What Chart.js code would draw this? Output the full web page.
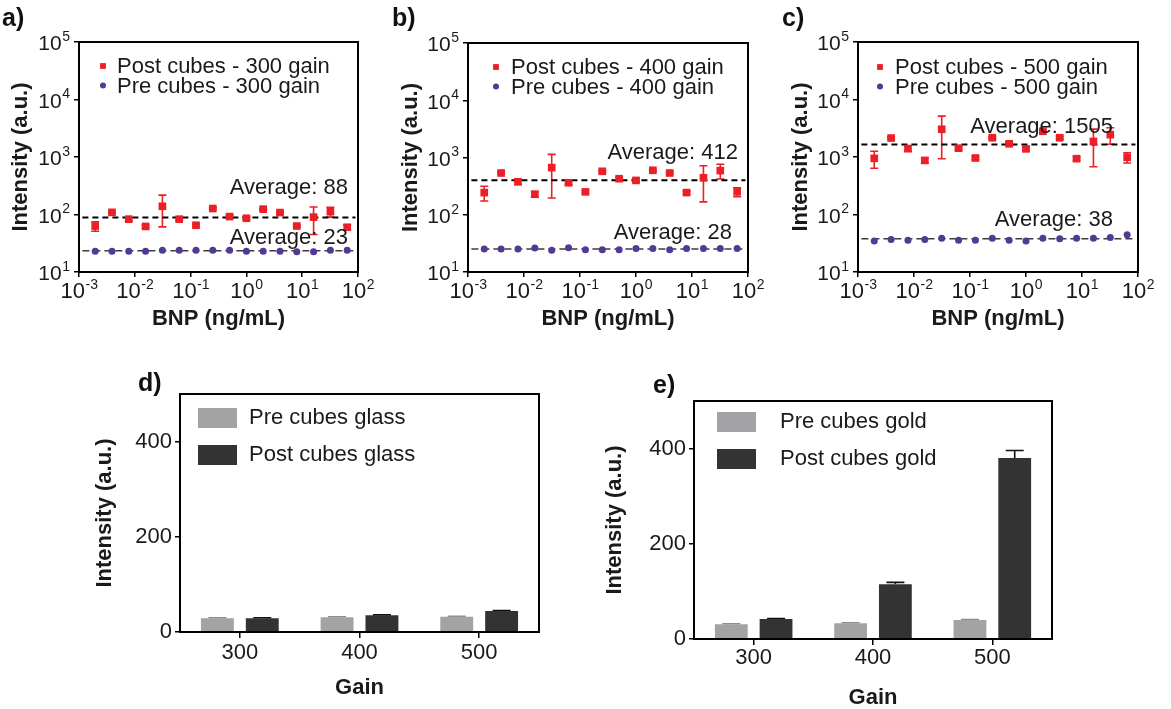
<!DOCTYPE html>
<html lang="en">
<head>
<meta charset="UTF-8">
<title>BNP cube intensity</title>
<script src="https://cdn.jsdelivr.net/npm/chart.js"></script>
<style>
  body { margin: 0; background: #fff; }
  #wrap { position: relative; width: 1171px; height: 709px; overflow: hidden; background: #fff; }
  canvas { position: absolute; }
  .lbl { position: absolute; z-index: 2; font: bold 25px "Liberation Sans", Arial, sans-serif; color: #111; line-height: 1; }
</style>
</head>
<body>
<div id="wrap">
  <canvas id="chA" width="390" height="340" style="left:0;top:0"></canvas>
  <canvas id="chB" width="390" height="340" style="left:390px;top:0"></canvas>
  <canvas id="chC" width="390" height="340" style="left:780px;top:0"></canvas>
  <canvas id="chD" width="480" height="369" style="left:80px;top:340px"></canvas>
  <canvas id="chE" width="480" height="369" style="left:590px;top:340px"></canvas>
  <div class="lbl" style="left:2px;top:5px">a)</div>
  <div class="lbl" style="left:392px;top:5px">b)</div>
  <div class="lbl" style="left:782px;top:5px">c)</div>
  <div class="lbl" style="left:138px;top:370px">d)</div>
  <div class="lbl" style="left:653px;top:372px">e)</div>
</div>

<script>
// ---- data ----
const bnpConc = [0.00195, 0.0039, 0.0078, 0.0156, 0.03125, 0.0625, 0.125, 0.25, 0.5, 1, 2, 4, 8, 16, 32, 64];
const xTickExp = [-3, -2, -1, 0, 1, 2];
const yTickExp = [1, 2, 3, 4, 5];
const avgSpan = [0.00115, 90];

// a) 300 gain
const postA = [63, 109, 83, 62, 139, 83, 65, 127, 92, 86, 124, 108, 63, 90, 112, 60];
const postErrA = [12, 4, 5, 3, 78, 4, 3, 5, 4, 5, 4, 4, 3, 45, 22, 6];
const preA = [23, 23, 23, 23, 24, 24, 24, 24, 24, 23, 23, 23, 22.5, 22.5, 24, 24];
const avgLineA = [89, 23.5];
const avgTextA = [88, 23];

// b) 400 gain
const postB = [244, 536, 377, 228, 666, 362, 251, 574, 426, 398, 598, 536, 244, 443, 590, 251];
const postErrB = [70, 20, 40, 25, 470, 30, 15, 25, 25, 20, 25, 25, 15, 275, 170, 45];
const preB = [25.1, 25.1, 25.1, 26.2, 24.1, 26.6, 24.4, 24.4, 24.4, 25.8, 25.8, 24.4, 25.8, 25.8, 25.8, 25.8];
const avgLineB = [400, 25.3];
const avgTextB = [412, 28];

// c) 500 gain
const postC = [947, 2136, 1403, 873, 3035, 1422, 960, 2163, 1696, 1384, 2800, 2163, 935, 1866, 2445, 986];
const postErrC = [310, 100, 150, 80, 2100, 90, 60, 100, 100, 100, 120, 120, 60, 1190, 780, 200];
const preC = [34.7, 36.7, 35.7, 36.7, 38.7, 35.7, 35.7, 38.7, 35.7, 34.7, 38.7, 37.7, 38.7, 38.7, 39.8, 44.4];
const avgLineC = [1650, 37.7];
const avgTextC = [1505, 38];

// d) / e) bars
const gains = ['300', '400', '500'];
const barTicks = [0, 200, 400];
const preGlass = [29, 31, 32];
const preGlassErr = [1, 1, 1];
const postGlass = [29, 35, 44];
const postGlassErr = [1, 1, 1];
const preGold = [31, 33, 40];
const preGoldErr = [1, 1, 1];
const postGold = [42, 115, 380];
const postGoldErr = [1, 4, 16];

// ---- style ----
const FONT = '"Liberation Sans", Arial, sans-serif';
const INK = '#1a1a1a';
const RED = 'rgb(236,30,38)';
const PURPLE = 'rgb(84,56,150)';
const GREY = '#a3a3a5';
const DARK = '#333333';

Chart.defaults.font.family = FONT;
Chart.defaults.color = INK;

// error bars, frame, log tick labels, legend and notes
const deco = {
  id: 'deco',
  beforeDatasetsDraw(chart) {
    const ctx = chart.ctx;
    chart.data.datasets.forEach((ds, i) => {
      if (!ds.errors) return;
      const meta = chart.getDatasetMeta(i);
      const ys = chart.scales[meta.yAxisID];
      ctx.save();
      ctx.strokeStyle = ds.errColor;
      ctx.lineWidth = 1.6;
      meta.data.forEach((el, j) => {
        const d = ds.data[j];
        const v = typeof d === 'object' ? d.y : d;
        const e = ds.errors[j];
        const top = ys.getPixelForValue(v + e);
        const bot = ds.errUp ? ys.getPixelForValue(v) : ys.getPixelForValue(Math.max(v - e, ys.min));
        ctx.beginPath();
        ctx.moveTo(el.x, top); ctx.lineTo(el.x, bot);
        ctx.moveTo(el.x - ds.capW, top); ctx.lineTo(el.x + ds.capW, top);
        if (!ds.errUp) { ctx.moveTo(el.x - ds.capW, bot); ctx.lineTo(el.x + ds.capW, bot); }
        ctx.stroke();
      });
      ctx.restore();
    });
  },
  afterDraw(chart, args, o) {
    const {ctx, chartArea: a, scales} = chart;
    ctx.save();
    ctx.strokeStyle = '#000';
    ctx.lineWidth = 2;
    ctx.strokeRect(a.left, a.top, a.right - a.left, a.bottom - a.top);

    ctx.fillStyle = INK;
    ctx.textBaseline = 'middle';
    if (o.logLabels) {
      yTickExp.forEach(e => {
        const py = scales.y.getPixelForValue(Math.pow(10, e));
        ctx.font = '14px ' + FONT;
        const sw = ctx.measureText(String(e)).width;
        const right = a.left - 9;
        ctx.textAlign = 'left';
        ctx.fillText(String(e), right - sw, py - 5);
        ctx.font = '21px ' + FONT;
        ctx.textAlign = 'right';
        ctx.fillText('10', right - sw - 0.5, py + 2.5);
      });
      xTickExp.forEach(e => {
        const px = scales.x.getPixelForValue(Math.pow(10, e));
        ctx.font = '22px ' + FONT;
        const bw = ctx.measureText('10').width;
        ctx.font = '14px ' + FONT;
        const sw = ctx.measureText(String(e)).width;
        const left = px - (bw + sw) / 2;
        ctx.textAlign = 'left';
        ctx.fillText(String(e), left + bw + 0.5, a.bottom + 13);
        ctx.font = '22px ' + FONT;
        ctx.fillText('10', left, a.bottom + 20);
      });
    }

    const lg = o.legend;
    if (lg) {
      chart.data.datasets.filter(ds => ds.legendShape).forEach((ds, i) => {
        const cy = a.top + lg.y + i * lg.dy;
        const cx = a.left + lg.x;
        ctx.fillStyle = ds.backgroundColor;
        if (ds.legendShape === 'circle') {
          ctx.beginPath(); ctx.arc(cx, cy, ds.legendR, 0, Math.PI * 2); ctx.fill();
        } else if (ds.legendShape === 'square') {
          ctx.fillRect(cx - ds.legendR, cy - ds.legendR, ds.legendR * 2, ds.legendR * 2);
        } else {
          ctx.fillRect(cx, cy - lg.h / 2, lg.w, lg.h);
        }
        ctx.fillStyle = INK;
        ctx.font = lg.font + 'px ' + FONT;
        ctx.textAlign = 'left';
        ctx.fillText(ds.label, a.left + lg.textX, cy + (lg.ty || 0));
      });
    }

    (o.notes || []).forEach(n => {
      ctx.fillStyle = INK;
      ctx.font = '22px ' + FONT;
      ctx.textAlign = 'right';
      ctx.fillText(n.text, a.right - n.r, a.top + n.y);
    });
    ctx.restore();
  }
};
Chart.register(deco);

const titleFont = {family: FONT, size: 22, weight: 'bold', lineHeight: 1};
const tickGrid = {display: true, drawOnChartArea: false, drawTicks: true, tickLength: 5, color: '#000', lineWidth: 1.5};

function scatterPanel(id, gain, post, postErr, pre, avgLine, avgText, lay) {
  const pts = ys => bnpConc.map((x, i) => ({x: x, y: ys[i]}));
  const flat = v => avgSpan.map(x => ({x: x, y: v}));
  new Chart(document.getElementById(id), {
    type: 'scatter',
    data: {
      datasets: [
        {label: 'Post cubes - ' + gain + ' gain', data: pts(post), errors: postErr, errColor: RED, capW: 4,
         pointStyle: 'rect', pointRadius: 5.4, backgroundColor: RED, borderWidth: 0, legendShape: 'square', legendR: 2.9},
        {label: 'Pre cubes - ' + gain + ' gain', data: pts(pre),
         pointStyle: 'circle', pointRadius: 3.5, backgroundColor: PURPLE, borderWidth: 0, legendShape: 'circle', legendR: 3},
        {type: 'line', data: flat(avgLine[0]), borderColor: '#000', borderWidth: 2, borderDash: [6, 4], pointRadius: 0},
        {type: 'line', data: flat(avgLine[1]), borderColor: '#3c3c3c', borderWidth: 1.5, borderDash: [7, 4], pointRadius: 0}
      ]
    },
    options: {
      responsive: false,
      animation: false,
      layout: {padding: {left: lay.pl, top: lay.pt, right: lay.pr, bottom: 10}},
      plugins: {
        legend: {display: false},
        tooltip: {enabled: false},
        deco: {
          logLabels: true,
          legend: {x: lay.lx, y: lay.ly, dy: 19.5, textX: lay.tx, font: 22, ty: 1},
          notes: [
            {text: 'Average: ' + avgText[0], r: lay.n1r, y: lay.n1y},
            {text: 'Average: ' + avgText[1], r: lay.n2r, y: lay.n2y}
          ]
        }
      },
      scales: {
        x: {
          type: 'logarithmic', min: 1e-3, max: 1e2,
          afterBuildTicks: s => { s.ticks = xTickExp.map(e => ({value: Math.pow(10, e)})); },
          afterFit: s => { s.height = 58; },
          ticks: {display: false},
          grid: tickGrid,
          border: {display: true, color: '#000', width: 2},
          title: {display: true, text: 'BNP (ng/mL)', font: titleFont, padding: 0, color: INK}
        },
        y: {
          type: 'logarithmic', min: 10, max: 1e5,
          afterBuildTicks: s => { s.ticks = yTickExp.map(e => ({value: Math.pow(10, e)})); },
          afterFit: s => { s.width = lay.yw; },
          ticks: {display: false},
          grid: tickGrid,
          border: {display: true, color: '#000', width: 2},
          title: {display: true, text: 'Intensity (a.u.)', font: titleFont, padding: 0, color: INK}
        }
      }
    }
  });
}

function barPanel(id, material, pre, preErr, post, postErr, lay) {
  new Chart(document.getElementById(id), {
    type: 'bar',
    data: {
      labels: gains,
      datasets: [
        {label: 'Pre cubes ' + material, data: pre, errors: preErr, errColor: '#8c8c8e', errUp: true, capW: 9,
         backgroundColor: GREY, legendShape: 'box', categoryPercentage: 0.75, barPercentage: 0.733},
        {label: 'Post cubes ' + material, data: post, errors: postErr, errColor: '#111', errUp: true, capW: 9,
         backgroundColor: DARK, legendShape: 'box', categoryPercentage: 0.75, barPercentage: 0.733}
      ]
    },
    options: {
      responsive: false,
      animation: false,
      layout: {padding: {left: 14, top: lay.pt, right: lay.pr, bottom: lay.pb}},
      plugins: {
        legend: {display: false},
        tooltip: {enabled: false},
        deco: {
          legend: {x: lay.lx, y: lay.ly, dy: 37, w: 39, h: 20, textX: lay.tx, font: 22}
        }
      },
      scales: {
        x: {
          afterFit: s => { s.height = lay.xh; },
          ticks: {font: {size: 22}, padding: lay.xpad, color: INK},
          grid: {display: true, offset: false, drawOnChartArea: false, drawTicks: true, tickLength: 6, color: '#000', lineWidth: 1.5},
          border: {display: true, color: '#000', width: 2},
          title: {display: true, text: 'Gain', font: titleFont, padding: 0, color: INK}
        },
        y: {
          min: 0, max: 500,
          afterBuildTicks: s => { s.ticks = barTicks.map(v => ({value: v})); },
          afterFit: s => { s.width = lay.yw; },
          ticks: {font: {size: 22}, padding: 3, color: INK},
          grid: tickGrid,
          border: {display: true, color: '#000', width: 2},
          title: {display: true, text: 'Intensity (a.u.)', font: titleFont, padding: 0, color: INK}
        }
      }
    }
  });
}

scatterPanel('chA', '300', postA, postErrA, preA, avgLineA, avgTextA,
  {pl: 10, yw: 69, pt: 42, pr: 32, lx: 24, ly: 24, tx: 38, n1r: 10, n1y: 146, n2r: 10, n2y: 196});
scatterPanel('chB', '400', postB, postErrB, preB, avgLineB, avgTextB,
  {pl: 10, yw: 68, pt: 43, pr: 32, lx: 28, ly: 24, tx: 43, n1r: 10, n1y: 110, n2r: 16, n2y: 190});
scatterPanel('chC', '500', postC, postErrC, preC, avgLineC, avgTextC,
  {pl: 10, yw: 68, pt: 42, pr: 32, lx: 22, ly: 25, tx: 37, n1r: 25, n1y: 85, n2r: 25, n2y: 178});

barPanel('chD', 'glass', preGlass, preGlassErr, postGlass, postGlassErr,
  {yw: 86, pt: 54, pr: 21, pb: 10, xh: 67, xpad: 2, lx: 18, ly: 24, tx: 69});
barPanel('chE', 'gold', preGold, preGoldErr, postGold, postGoldErr,
  {yw: 90, pt: 61, pr: 18, pb: 0, xh: 70, xpad: 0, lx: 23, ly: 21, tx: 86});
</script>
</body>
</html>
